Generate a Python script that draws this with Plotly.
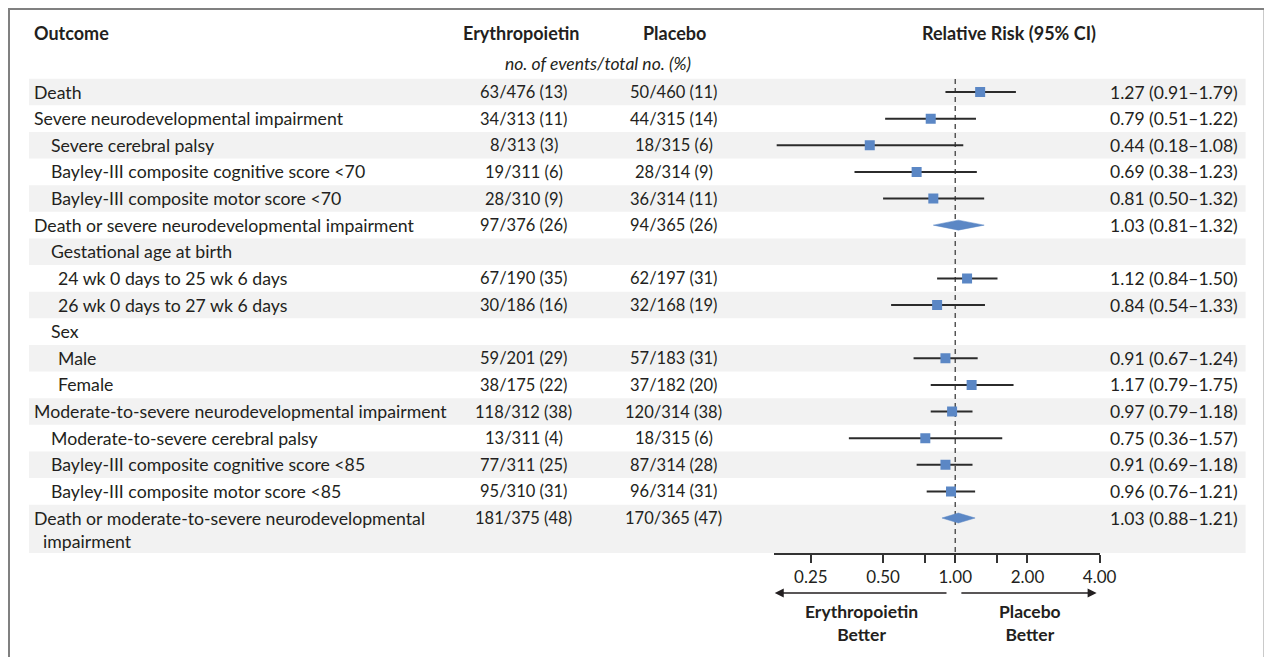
import math
import plotly.graph_objects as go

# ---------------- data ----------------
outcomes = [
    "Death",
    "Severe neurodevelopmental impairment",
    "Severe cerebral palsy",
    "Bayley-III composite cognitive score <70",
    "Bayley-III composite motor score <70",
    "Death or severe neurodevelopmental impairment",
    "Gestational age at birth",
    "24 wk 0 days to 25 wk 6 days",
    "26 wk 0 days to 27 wk 6 days",
    "Sex",
    "Male",
    "Female",
    "Moderate-to-severe neurodevelopmental impairment",
    "Moderate-to-severe cerebral palsy",
    "Bayley-III composite cognitive score <85",
    "Bayley-III composite motor score <85",
    "Death or moderate-to-severe neurodevelopmental<br>  impairment",
]
levels = [0, 0, 1, 1, 1, 0, 1, 2, 2, 1, 2, 2, 0, 1, 1, 1, 0]
is_summary = [False, False, False, False, False, True, False, False, False,
              False, False, False, False, False, False, False, True]

epo_events = [63, 34, 8, 19, 28, 97, None, 67, 30, None, 59, 38, 118, 13, 77, 95, 181]
epo_total = [476, 313, 313, 311, 310, 376, None, 190, 186, None, 201, 175, 312, 311, 311, 310, 375]
epo_pct = [13, 11, 3, 6, 9, 26, None, 35, 16, None, 29, 22, 38, 4, 25, 31, 48]

pbo_events = [50, 44, 18, 28, 36, 94, None, 62, 32, None, 57, 37, 120, 18, 87, 96, 170]
pbo_total = [460, 315, 315, 314, 314, 365, None, 197, 168, None, 183, 182, 314, 315, 314, 314, 365]
pbo_pct = [11, 14, 6, 9, 11, 26, None, 31, 19, None, 31, 20, 38, 6, 28, 31, 47]

rr = [1.27, 0.79, 0.44, 0.69, 0.81, 1.03, None, 1.12, 0.84, None, 0.91, 1.17, 0.97, 0.75, 0.91, 0.96, 1.03]
rr_lo = [0.91, 0.51, 0.18, 0.38, 0.50, 0.81, None, 0.84, 0.54, None, 0.67, 0.79, 0.79, 0.36, 0.69, 0.76, 0.88]
rr_hi = [1.79, 1.22, 1.08, 1.23, 1.32, 1.32, None, 1.50, 1.33, None, 1.24, 1.75, 1.18, 1.57, 1.18, 1.21, 1.21]

tick_vals = [0.25, 0.5, 0.75, 1.0, 1.5, 2.0, 4.0]
tick_text = ["0.25", "0.50", "", "1.00", "", "2.00", "4.00"]

# ---------------- layout helpers ----------------
OFF = 8                      # default page body margin
SX = 0.987                   # observed horizontal scale of the photograph
W = 1276
H = 665 - 2 * OFF
FONT = "Lato"
TXT = "#231f20"
BAND = "#f2f2f2"
BLUE = "#5b87c5"
FS_LBL = 17.7
FS_NUM = 16.5

def px(x):
    """target screen x (pixels) -> paper fraction"""
    return (x - OFF) / SX / W

row_y0 = 92.0
pitch = 26.625
row_y = [row_y0 + pitch * i for i in range(len(outcomes))]
indent_x = {0: 32, 1: 49, 2: 56}

fig = go.Figure()
shapes = []
annotations = []

# frame
shapes.append(dict(type="rect", xref="paper", yref="y", x0=px(9), x1=px(1265), y0=9, y1=720,
                   line=dict(color="#808080", width=2), fillcolor="rgba(0,0,0,0)", layer="below"))

# bands
for i, y in enumerate(row_y):
    if i % 2 == 0:
        top = y - pitch / 2
        bot = y + pitch / 2 if i < len(outcomes) - 1 else 553
        shapes.append(dict(type="rect", xref="paper", yref="y", x0=px(29), x1=px(1246),
                           y0=top, y1=bot, fillcolor=BAND, line=dict(width=0), layer="below"))

# header
HFS = 18
annotations.append(dict(text="<b>Outcome</b>", x=px(32), y=33, xanchor="left", font=dict(size=HFS)))
annotations.append(dict(text="<b>Erythropoietin</b>", x=px(521), y=33, xanchor="center", font=dict(size=HFS)))
annotations.append(dict(text="<b>Placebo</b>", x=px(675), y=33, xanchor="center", font=dict(size=HFS)))
annotations.append(dict(text="<b>Relative Risk (95% CI)</b>", x=px(1009), y=33, xanchor="center",
                        font=dict(size=HFS)))
annotations.append(dict(text="<i>no. of events/total no. (%)</i>", x=px(598), y=63, xanchor="center",
                        font=dict(size=17.5)))

# rows
for i, name in enumerate(outcomes):
    y = row_y[i]
    yy = y + (11.5 if "<br>" in name else 0)
    annotations.append(dict(text=name, x=px(indent_x[levels[i]]), y=yy, xanchor="left", align="left",
                            font=dict(size=FS_LBL)))
    if epo_events[i] is not None:
        annotations.append(dict(text=f"{epo_events[i]}/{epo_total[i]} ({epo_pct[i]})",
                                x=px(524), y=y, xanchor="center"))
        annotations.append(dict(text=f"{pbo_events[i]}/{pbo_total[i]} ({pbo_pct[i]})",
                                x=px(674), y=y, xanchor="center"))
    if rr[i] is not None:
        annotations.append(dict(text=f"{rr[i]:.2f} ({rr_lo[i]:.2f}\u2013{rr_hi[i]:.2f})",
                                x=px(1240), y=y, xanchor="right", font=dict(size=17.5)))

# reference line
fig.add_trace(go.Scatter(x=[1, 1], y=[79, 553], mode="lines",
                         line=dict(color="#555555", width=1.5, dash="5px,4px"),
                         hoverinfo="skip", showlegend=False))

# CI lines
cx, cy = [], []
for i in range(len(outcomes)):
    if rr[i] is None or is_summary[i]:
        continue
    cx += [rr_lo[i], rr_hi[i], None]
    cy += [row_y[i], row_y[i], None]
fig.add_trace(go.Scatter(x=cx, y=cy, mode="lines", line=dict(color="#2b2b2b", width=2),
                         hoverinfo="skip", showlegend=False))

# squares
sx = [rr[i] for i in range(len(outcomes)) if rr[i] is not None and not is_summary[i]]
sy = [row_y[i] for i in range(len(outcomes)) if rr[i] is not None and not is_summary[i]]
fig.add_trace(go.Scatter(x=sx, y=sy, mode="markers",
                         marker=dict(symbol="square", size=10, color=BLUE, line=dict(width=0)),
                         hoverinfo="skip", showlegend=False))

# diamonds
for i in range(len(outcomes)):
    if is_summary[i]:
        y = row_y[i]
        fig.add_trace(go.Scatter(x=[rr_lo[i], rr[i], rr_hi[i], rr[i], rr_lo[i]],
                                 y=[y, y - 5, y, y + 5, y], mode="lines", fill="toself",
                                 fillcolor=BLUE, line=dict(color=BLUE, width=0.5),
                                 hoverinfo="skip", showlegend=False))

# arrows and direction labels
annotations.append(dict(text="", x=px(775), y=593, ax=(946 - 775) / SX, ay=0, showarrow=True,
                        arrowhead=2, arrowsize=1.2, arrowwidth=1.5, arrowcolor=TXT))
annotations.append(dict(text="", x=px(1097), y=593, ax=(962 - 1097) / SX, ay=0, showarrow=True,
                        arrowhead=2, arrowsize=1.2, arrowwidth=1.5, arrowcolor=TXT))
annotations.append(dict(text="<b>Erythropoietin<br>Better</b>", x=px(862), y=623, xanchor="center",
                        font=dict(size=17.5)))
annotations.append(dict(text="<b>Placebo<br>Better</b>", x=px(1030), y=623, xanchor="center",
                        font=dict(size=17.5)))

for a in annotations:
    a.setdefault("xref", "paper")
    a.setdefault("yref", "y")
    a.setdefault("showarrow", False)
    a.setdefault("yanchor", "middle")
    f = dict(family=FONT, size=FS_NUM, color=TXT)
    f.update(a.get("font", {}))
    a["font"] = f

lo_r, hi_r = 0.175, 4.0
fig.update_layout(
    width=W, height=H,
    margin=dict(l=0, r=0, t=0, b=0),
    paper_bgcolor="white", plot_bgcolor="rgba(0,0,0,0)",
    font=dict(family=FONT, size=FS_NUM, color=TXT),
    shapes=shapes, annotations=annotations,
    xaxis=dict(type="log", domain=[px(774), px(1100)],
               range=[math.log10(lo_r), math.log10(hi_r)],
               anchor="free", position=(OFF + H - 554) / H,
               showline=True, linecolor="#333333", linewidth=1.5,
               ticks="outside", ticklen=8, tickwidth=1.5, tickcolor="#333333",
               tickvals=tick_vals, ticktext=tick_text,
               tickfont=dict(family=FONT, size=17, color=TXT),
               showgrid=False, zeroline=False, fixedrange=True),
    yaxis=dict(range=[OFF + H, OFF], domain=[0, 1], visible=False, fixedrange=True),
    showlegend=False,
)

fig.write_html("out.html")
